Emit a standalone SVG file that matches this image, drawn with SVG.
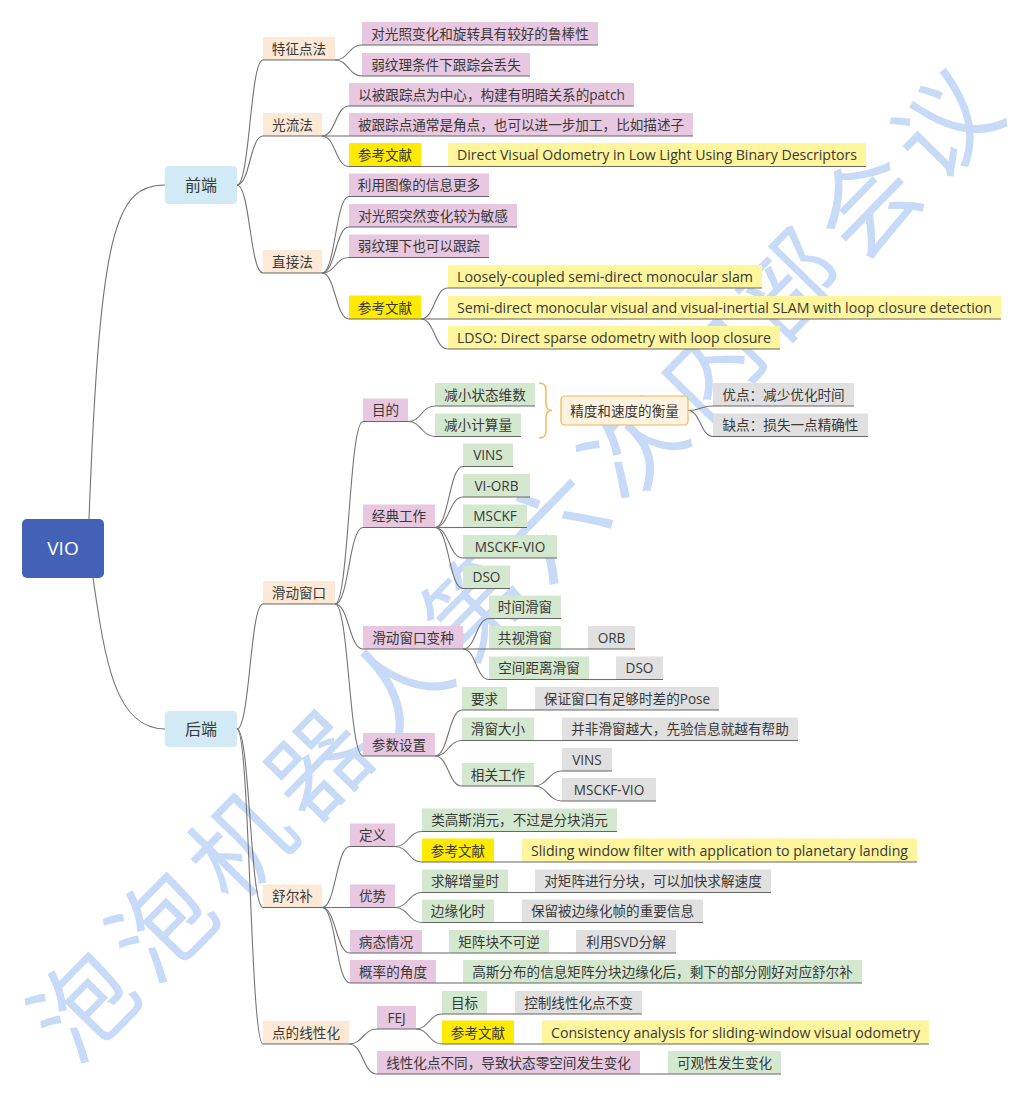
<svg xmlns="http://www.w3.org/2000/svg" width="1022" height="1097" viewBox="0 0 1022 1097">
<style>
.ln{fill:none;stroke:#737373;stroke-width:1.1}
.ul{stroke:#666;stroke-width:1.1}
.pk{fill:#e8c7e0}.gr{fill:#d4e8cf}.gy{fill:#e0e0e0}.yl{fill:#ffea00}.py{fill:#fff59c}.pc{fill:#fde9d5}.bl{fill:#d2eaf5}
text{font-family:"Open Sans","Noto Sans CJK SC",sans-serif;font-size:13.6px;fill:#383838}
.c{text-anchor:middle}
.wm{font-family:"Noto Sans CJK SC",sans-serif;font-size:100px;letter-spacing:12px;fill:#c7daf7;text-anchor:middle;dominant-baseline:central}
</style>
<rect width="1022" height="1097" fill="#fff"/>
<text class="wm" transform="translate(514,556) rotate(-45.6)" x="0" y="0">泡泡机器人第六次内部会议</text>

<g id="connectors">
<path class="ln" d="M89,519 C100,230 115,185 165,185"/>
<path class="ln" d="M93,578 C105,660 115,729 165,729"/>
<path class="ln" d="M237,185 C250,185 250,60 263,60"/>
<path class="ln" d="M237,185 C250,185 250,136 263,136"/>
<path class="ln" d="M237,185 C250,185 250,273 263,273"/>
<path class="ln" d="M237,729 C250,729 250,604 263,604"/>
<path class="ln" d="M237,729 C250,729 250,907.5 263,907.5"/>
<path class="ln" d="M237,729 C250,729 250,1044 263,1044"/>
<path class="ln" d="M335,60 C348.5,60 348.5,45 362,45"/>
<path class="ln" d="M335,60 C348.5,60 348.5,76 362,76"/>
<path class="ln" d="M322,136 C335.5,136 335.5,106 349,106"/>
<path class="ln" d="M322,136 L349,136"/>
<path class="ln" d="M322,136 C335.5,136 335.5,166.5 349,166.5"/>
<path class="ln" d="M421,166.5 L448,166.5"/>
<path class="ln" d="M322,273 C335.5,273 335.5,196.5 349,196.5"/>
<path class="ln" d="M322,273 C335.5,273 335.5,227 349,227"/>
<path class="ln" d="M322,273 C335.5,273 335.5,257.5 349,257.5"/>
<path class="ln" d="M322,273 C335.5,273 335.5,319 349,319"/>
<path class="ln" d="M421,319 C434.5,319 434.5,288 448,288"/>
<path class="ln" d="M421,319 L448,319"/>
<path class="ln" d="M421,319 C434.5,319 434.5,349 448,349"/>
<path class="ln" d="M335,604 C349,604 349,421.5 363,421.5"/>
<path class="ln" d="M335,604 C349,604 349,527.5 363,527.5"/>
<path class="ln" d="M335,604 C349,604 349,649 363,649"/>
<path class="ln" d="M335,604 C349,604 349,756 363,756"/>
<path class="ln" d="M408,421.5 C421.5,421.5 421.5,406 435,406"/>
<path class="ln" d="M408,421.5 C421.5,421.5 421.5,436.5 435,436.5"/>
<path class="ln" d="M688,410.5 C700.5,410.5 700.5,406 713,406"/>
<path class="ln" d="M688,410.5 C700.5,410.5 700.5,436.5 713,436.5"/>
<path class="ln" d="M435,527.5 C449,527.5 449,466.5 463,466.5"/>
<path class="ln" d="M435,527.5 C449,527.5 449,497 463,497"/>
<path class="ln" d="M435,527.5 L463,527.5"/>
<path class="ln" d="M435,527.5 C449,527.5 449,558 463,558"/>
<path class="ln" d="M435,527.5 C449,527.5 449,588.5 463,588.5"/>
<path class="ln" d="M463,649 C476,649 476,618.5 489,618.5"/>
<path class="ln" d="M463,649 L489,649"/>
<path class="ln" d="M463,649 C476,649 476,679.5 489,679.5"/>
<path class="ln" d="M561,649 L588,649"/>
<path class="ln" d="M589,679.5 L616,679.5"/>
<path class="ln" d="M435,756 C448.5,756 448.5,710 462,710"/>
<path class="ln" d="M435,756 C448.5,756 448.5,740.5 462,740.5"/>
<path class="ln" d="M435,756 C448.5,756 448.5,786 462,786"/>
<path class="ln" d="M507,710 L535,710"/>
<path class="ln" d="M534,740.5 L562,740.5"/>
<path class="ln" d="M534,786 C548,786 548,771 562,771"/>
<path class="ln" d="M534,786 C548,786 548,801 562,801"/>
<path class="ln" d="M322,907.5 C336,907.5 336,846.5 350,846.5"/>
<path class="ln" d="M322,907.5 L350,907.5"/>
<path class="ln" d="M322,907.5 C336,907.5 336,953 350,953"/>
<path class="ln" d="M322,907.5 C336,907.5 336,983 350,983"/>
<path class="ln" d="M395,846.5 C408.5,846.5 408.5,831.5 422,831.5"/>
<path class="ln" d="M395,846.5 C408.5,846.5 408.5,862 422,862"/>
<path class="ln" d="M494,862 L522,862"/>
<path class="ln" d="M395,907.5 C408.5,907.5 408.5,892.5 422,892.5"/>
<path class="ln" d="M395,907.5 C408.5,907.5 408.5,922.5 422,922.5"/>
<path class="ln" d="M508,892.5 L535,892.5"/>
<path class="ln" d="M494,922.5 L522,922.5"/>
<path class="ln" d="M422,953 L449,953"/>
<path class="ln" d="M549,953 L576,953"/>
<path class="ln" d="M436,983 L463,983"/>
<path class="ln" d="M349,1044 C363,1044 363,1029 377,1029"/>
<path class="ln" d="M349,1044 C363,1044 363,1074 377,1074"/>
<path class="ln" d="M416,1029 C429,1029 429,1014 442,1014"/>
<path class="ln" d="M416,1029 C429,1029 429,1044 442,1044"/>
<path class="ln" d="M487,1014 L515,1014"/>
<path class="ln" d="M514,1044 L542,1044"/>
<path class="ln" d="M640,1074 L668,1074"/>
<path d="M539,383 Q546,383 546,390 L546,404 Q546,410.5 552,410.5 Q546,410.5 546,417 L546,431 Q546,438 539,438" fill="none" stroke="#f2bb5e" stroke-width="1.5"/>
</g>

<g id="root"><rect x="22" y="519" width="82" height="59" rx="5" fill="#4461b8"/><text class="c" x="63" y="555" style="fill:#fff;font-size:19px">VIO</text></g>
<g id="qianduan"><rect class="bl" x="165" y="166" width="72" height="38" rx="4"/><text class="c" x="201" y="190.5" style="font-size:16px">前端</text></g>
<g id="houduan"><rect class="bl" x="165" y="711" width="72" height="36" rx="4"/><text class="c" x="201" y="734.5" style="font-size:16px">后端</text></g>

<g id="tezheng"><rect class="pc" x="263" y="37" width="72" height="23"/><line class="ul" x1="263" y1="60" x2="335" y2="60"/><text class="c" x="299" y="53.5">特征点法</text></g>
<g id="fe1"><rect class="pk" x="362" y="22" width="236" height="23"/><line class="ul" x1="362" y1="45" x2="598" y2="45"/><text class="c" x="480" y="38.5">对光照变化和旋转具有较好的鲁棒性</text></g>
<g id="fe2"><rect class="pk" x="362" y="53" width="168" height="23"/><line class="ul" x1="362" y1="76" x2="530" y2="76"/><text class="c" x="446" y="69.5">弱纹理条件下跟踪会丢失</text></g>

<g id="guangliu"><rect class="pc" x="263" y="113" width="59" height="23"/><line class="ul" x1="263" y1="136" x2="322" y2="136"/><text class="c" x="292.5" y="129.5">光流法</text></g>
<g id="gl1"><rect class="pk" x="349" y="83" width="285" height="23"/><line class="ul" x1="349" y1="106" x2="634" y2="106"/><text class="c" x="491.5" y="99.5">以被跟踪点为中心，构建有明暗关系的patch</text></g>
<g id="gl2"><rect class="pk" x="349" y="113" width="344" height="23"/><line class="ul" x1="349" y1="136" x2="693" y2="136"/><text class="c" x="521" y="129.5">被跟踪点通常是角点，也可以进一步加工，比如描述子</text></g>
<g id="gl-ref"><rect class="yl" x="349" y="143" width="72" height="23.5"/><line class="ul" x1="349" y1="166.5" x2="421" y2="166.5"/><text class="c" x="385" y="160">参考文献</text></g>
<g id="gl-paper"><rect class="py" x="448" y="143" width="418" height="23.5"/><line class="ul" x1="448" y1="166.5" x2="866" y2="166.5"/><text x="457" y="160" textLength="400" lengthAdjust="spacingAndGlyphs">Direct Visual Odometry in Low Light Using Binary Descriptors</text></g>

<g id="zhijie"><rect class="pc" x="263" y="250" width="59" height="23"/><line class="ul" x1="263" y1="273" x2="322" y2="273"/><text class="c" x="292.5" y="266.5">直接法</text></g>
<g id="zj1"><rect class="pk" x="349" y="173.5" width="140" height="23"/><line class="ul" x1="349" y1="196.5" x2="489" y2="196.5"/><text class="c" x="419" y="190">利用图像的信息更多</text></g>
<g id="zj2"><rect class="pk" x="349" y="204" width="168" height="23"/><line class="ul" x1="349" y1="227" x2="517" y2="227"/><text class="c" x="433" y="220.5">对光照突然变化较为敏感</text></g>
<g id="zj3"><rect class="pk" x="349" y="234.5" width="140" height="23"/><line class="ul" x1="349" y1="257.5" x2="489" y2="257.5"/><text class="c" x="419" y="251">弱纹理下也可以跟踪</text></g>
<g id="zj-ref"><rect class="yl" x="349" y="295.5" width="72" height="23.5"/><line class="ul" x1="349" y1="319" x2="421" y2="319"/><text class="c" x="385" y="312.5">参考文献</text></g>
<g id="zj-p1"><rect class="py" x="448" y="265" width="314" height="23"/><line class="ul" x1="448" y1="288" x2="762" y2="288"/><text x="457" y="281.5" textLength="296" lengthAdjust="spacingAndGlyphs">Loosely-coupled semi-direct monocular slam</text></g>
<g id="zj-p2"><rect class="py" x="448" y="296" width="553" height="23"/><line class="ul" x1="448" y1="319" x2="1001" y2="319"/><text x="457" y="312.5" textLength="535" lengthAdjust="spacingAndGlyphs">Semi-direct monocular visual and visual-inertial SLAM with loop closure detection</text></g>
<g id="zj-p3"><rect class="py" x="448" y="326" width="332" height="23"/><line class="ul" x1="448" y1="349" x2="780" y2="349"/><text x="457" y="342.5" textLength="314" lengthAdjust="spacingAndGlyphs">LDSO: Direct sparse odometry with loop closure</text></g>

<g id="huadong"><rect class="pc" x="263" y="581" width="72" height="23"/><line class="ul" x1="263" y1="604" x2="335" y2="604"/><text class="c" x="299" y="597.5">滑动窗口</text></g>
<g id="mudi"><rect class="pk" x="363" y="398.5" width="45" height="23"/><line class="ul" x1="363" y1="421.5" x2="408" y2="421.5"/><text class="c" x="385.5" y="415">目的</text></g>
<g id="md1"><rect class="gr" x="435" y="383" width="100" height="23"/><line class="ul" x1="435" y1="406" x2="535" y2="406"/><text class="c" x="485" y="399.5">减小状态维数</text></g>
<g id="md2"><rect class="gr" x="435" y="413.5" width="86" height="23"/><line class="ul" x1="435" y1="436.5" x2="521" y2="436.5"/><text class="c" x="478" y="430">减小计算量</text></g>
<g id="jingdu"><rect x="561" y="396" width="127" height="29" rx="4" fill="#fef3e1" stroke="#f1b65a" stroke-width="1.2"/><text class="c" x="624.5" y="415.5">精度和速度的衡量</text></g>
<g id="youdian"><rect class="gy" x="713" y="383" width="141" height="23"/><line class="ul" x1="713" y1="406" x2="854" y2="406"/><text class="c" x="783.5" y="399.5">优点：减少优化时间</text></g>
<g id="quedian"><rect class="gy" x="713" y="413.5" width="155" height="23"/><line class="ul" x1="713" y1="436.5" x2="868" y2="436.5"/><text class="c" x="790.5" y="430">缺点：损失一点精确性</text></g>

<g id="jingdian"><rect class="pk" x="363" y="504.5" width="72" height="23"/><line class="ul" x1="363" y1="527.5" x2="435" y2="527.5"/><text class="c" x="399" y="521">经典工作</text></g>
<g id="jd1"><rect class="gr" x="463" y="443.5" width="50" height="23"/><line class="ul" x1="463" y1="466.5" x2="513" y2="466.5"/><text class="c" x="488" y="460">VINS</text></g>
<g id="jd2"><rect class="gr" x="463" y="474" width="67" height="23"/><line class="ul" x1="463" y1="497" x2="530" y2="497"/><text class="c" x="496.5" y="490.5">VI-ORB</text></g>
<g id="jd3"><rect class="gr" x="463" y="504.5" width="64" height="23"/><line class="ul" x1="463" y1="527.5" x2="527" y2="527.5"/><text class="c" x="495" y="521">MSCKF</text></g>
<g id="jd4"><rect class="gr" x="463" y="535" width="94" height="23"/><line class="ul" x1="463" y1="558" x2="557" y2="558"/><text class="c" x="510" y="551.5">MSCKF-VIO</text></g>
<g id="jd5"><rect class="gr" x="463" y="565.5" width="47" height="23"/><line class="ul" x1="463" y1="588.5" x2="510" y2="588.5"/><text class="c" x="486.5" y="582">DSO</text></g>

<g id="bianzhong"><rect class="pk" x="363" y="626" width="100" height="23"/><line class="ul" x1="363" y1="649" x2="463" y2="649"/><text class="c" x="413" y="642.5">滑动窗口变种</text></g>
<g id="bz1"><rect class="gr" x="489" y="595.5" width="72" height="23"/><line class="ul" x1="489" y1="618.5" x2="561" y2="618.5"/><text class="c" x="525" y="612">时间滑窗</text></g>
<g id="bz2"><rect class="gr" x="489" y="626" width="72" height="23"/><line class="ul" x1="489" y1="649" x2="561" y2="649"/><text class="c" x="525" y="642.5">共视滑窗</text></g>
<g id="bz2a"><rect class="gy" x="588" y="626" width="47" height="23"/><line class="ul" x1="588" y1="649" x2="635" y2="649"/><text class="c" x="611.5" y="642.5">ORB</text></g>
<g id="bz3"><rect class="gr" x="489" y="656.5" width="100" height="23"/><line class="ul" x1="489" y1="679.5" x2="589" y2="679.5"/><text class="c" x="539" y="673">空间距离滑窗</text></g>
<g id="bz3a"><rect class="gy" x="616" y="656.5" width="47" height="23"/><line class="ul" x1="616" y1="679.5" x2="663" y2="679.5"/><text class="c" x="639.5" y="673">DSO</text></g>

<g id="canshu"><rect class="pk" x="363" y="733" width="72" height="23"/><line class="ul" x1="363" y1="756" x2="435" y2="756"/><text class="c" x="399" y="749.5">参数设置</text></g>
<g id="cs1"><rect class="gr" x="462" y="687" width="45" height="23"/><line class="ul" x1="462" y1="710" x2="507" y2="710"/><text class="c" x="484.5" y="703.5">要求</text></g>
<g id="cs1a"><rect class="gy" x="535" y="687" width="184" height="23"/><line class="ul" x1="535" y1="710" x2="719" y2="710"/><text class="c" x="627" y="703.5">保证窗口有足够时差的Pose</text></g>
<g id="cs2"><rect class="gr" x="462" y="717.5" width="72" height="23"/><line class="ul" x1="462" y1="740.5" x2="534" y2="740.5"/><text class="c" x="498" y="734">滑窗大小</text></g>
<g id="cs2a"><rect class="gy" x="562" y="717.5" width="236" height="23"/><line class="ul" x1="562" y1="740.5" x2="798" y2="740.5"/><text class="c" x="680" y="734">并非滑窗越大，先验信息就越有帮助</text></g>
<g id="cs3"><rect class="gr" x="462" y="763" width="72" height="23"/><line class="ul" x1="462" y1="786" x2="534" y2="786"/><text class="c" x="498" y="779.5">相关工作</text></g>
<g id="cs3a"><rect class="gy" x="562" y="748" width="50" height="23"/><line class="ul" x1="562" y1="771" x2="612" y2="771"/><text class="c" x="587" y="764.5">VINS</text></g>
<g id="cs3b"><rect class="gy" x="562" y="778" width="94" height="23"/><line class="ul" x1="562" y1="801" x2="656" y2="801"/><text class="c" x="609" y="794.5">MSCKF-VIO</text></g>

<g id="shuer"><rect class="pc" x="263" y="884.5" width="59" height="23"/><line class="ul" x1="263" y1="907.5" x2="322" y2="907.5"/><text class="c" x="292.5" y="901">舒尔补</text></g>
<g id="dingyi"><rect class="pk" x="350" y="823.5" width="45" height="23"/><line class="ul" x1="350" y1="846.5" x2="395" y2="846.5"/><text class="c" x="372.5" y="840">定义</text></g>
<g id="dy1"><rect class="gr" x="422" y="808.5" width="195" height="23"/><line class="ul" x1="422" y1="831.5" x2="617" y2="831.5"/><text class="c" x="519.5" y="825">类高斯消元，不过是分块消元</text></g>
<g id="dy-ref"><rect class="yl" x="422" y="838.5" width="72" height="23.5"/><line class="ul" x1="422" y1="862" x2="494" y2="862"/><text class="c" x="458" y="855.5">参考文献</text></g>
<g id="dy-paper"><rect class="py" x="522" y="838.5" width="395" height="23.5"/><line class="ul" x1="522" y1="862" x2="917" y2="862"/><text x="531" y="855.5" textLength="377" lengthAdjust="spacingAndGlyphs">Sliding window filter with application to planetary landing</text></g>
<g id="youshi"><rect class="pk" x="350" y="884.5" width="45" height="23"/><line class="ul" x1="350" y1="907.5" x2="395" y2="907.5"/><text class="c" x="372.5" y="901">优势</text></g>
<g id="ys1"><rect class="gr" x="422" y="869.5" width="86" height="23"/><line class="ul" x1="422" y1="892.5" x2="508" y2="892.5"/><text class="c" x="465" y="886">求解增量时</text></g>
<g id="ys1a"><rect class="gy" x="535" y="869.5" width="236" height="23"/><line class="ul" x1="535" y1="892.5" x2="771" y2="892.5"/><text class="c" x="653" y="886">对矩阵进行分块，可以加快求解速度</text></g>
<g id="ys2"><rect class="gr" x="422" y="899.5" width="72" height="23"/><line class="ul" x1="422" y1="922.5" x2="494" y2="922.5"/><text class="c" x="458" y="916">边缘化时</text></g>
<g id="ys2a"><rect class="gy" x="522" y="899.5" width="181" height="23"/><line class="ul" x1="522" y1="922.5" x2="703" y2="922.5"/><text class="c" x="612.5" y="916">保留被边缘化帧的重要信息</text></g>
<g id="bingtai"><rect class="pk" x="350" y="930" width="72" height="23"/><line class="ul" x1="350" y1="953" x2="422" y2="953"/><text class="c" x="386" y="946.5">病态情况</text></g>
<g id="bt1"><rect class="gr" x="449" y="930" width="100" height="23"/><line class="ul" x1="449" y1="953" x2="549" y2="953"/><text class="c" x="499" y="946.5">矩阵块不可逆</text></g>
<g id="bt2"><rect class="gy" x="576" y="930" width="100" height="23"/><line class="ul" x1="576" y1="953" x2="676" y2="953"/><text class="c" x="626" y="946.5">利用SVD分解</text></g>
<g id="gailv"><rect class="pk" x="350" y="960" width="86" height="23"/><line class="ul" x1="350" y1="983" x2="436" y2="983"/><text class="c" x="393" y="976.5">概率的角度</text></g>
<g id="gl-a"><rect class="gr" x="463" y="960" width="399" height="23"/><line class="ul" x1="463" y1="983" x2="862" y2="983"/><text class="c" x="662.5" y="976.5">高斯分布的信息矩阵分块边缘化后，剩下的部分刚好对应舒尔补</text></g>

<g id="xianxing"><rect class="pc" x="263" y="1021" width="86" height="23"/><line class="ul" x1="263" y1="1044" x2="349" y2="1044"/><text class="c" x="306" y="1037.5">点的线性化</text></g>
<g id="fej"><rect class="pk" x="377" y="1006" width="39" height="23"/><line class="ul" x1="377" y1="1029" x2="416" y2="1029"/><text class="c" x="396.5" y="1022.5">FEJ</text></g>
<g id="fej1"><rect class="gr" x="442" y="991" width="45" height="23"/><line class="ul" x1="442" y1="1014" x2="487" y2="1014"/><text class="c" x="464.5" y="1007.5">目标</text></g>
<g id="fej1a"><rect class="gy" x="515" y="991" width="127" height="23"/><line class="ul" x1="515" y1="1014" x2="642" y2="1014"/><text class="c" x="578.5" y="1007.5">控制线性化点不变</text></g>
<g id="fej-ref"><rect class="yl" x="442" y="1020.5" width="72" height="23.5"/><line class="ul" x1="442" y1="1044" x2="514" y2="1044"/><text class="c" x="478" y="1037.5">参考文献</text></g>
<g id="fej-paper"><rect class="py" x="542" y="1020.5" width="387" height="23.5"/><line class="ul" x1="542" y1="1044" x2="929" y2="1044"/><text x="551" y="1037.5" textLength="369" lengthAdjust="spacingAndGlyphs">Consistency analysis for sliding-window visual odometry</text></g>
<g id="xx2"><rect class="pk" x="377" y="1051" width="263" height="23"/><line class="ul" x1="377" y1="1074" x2="640" y2="1074"/><text class="c" x="508.5" y="1067.5">线性化点不同，导致状态零空间发生变化</text></g>
<g id="xx2a"><rect class="gr" x="668" y="1051" width="113" height="23"/><line class="ul" x1="668" y1="1074" x2="781" y2="1074"/><text class="c" x="724.5" y="1067.5">可观性发生变化</text></g>
</svg>
